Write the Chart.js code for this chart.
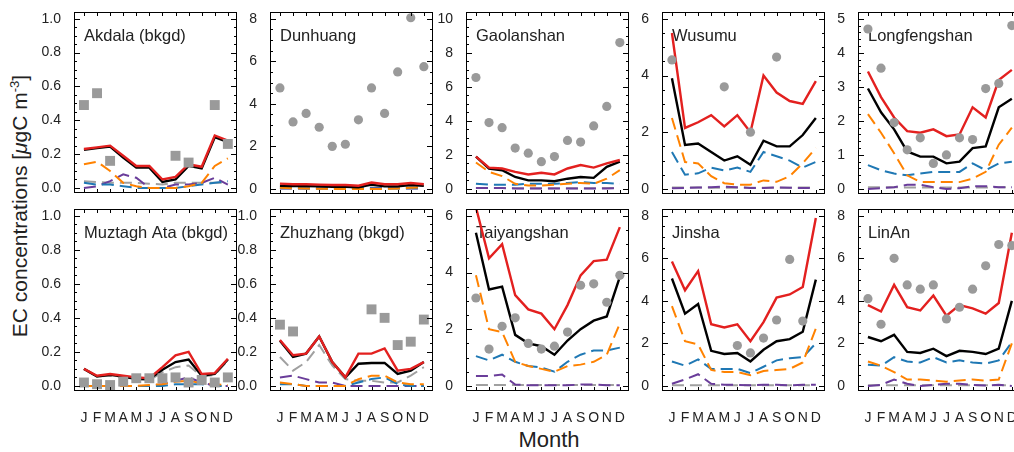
<!DOCTYPE html>
<html lang="en">
<head>
    <meta charset="UTF-8">
    <title>EC concentrations</title>
    <script src="https://cdn.jsdelivr.net/npm/chart.js@4.4.1/dist/chart.umd.min.js"></script>
    <style>
        * {
            margin: 0;
            padding: 0;
        }
        body {
            width: 1014px;
            height: 452px;
            position: relative;
            overflow: hidden;
            background: #fff;
            font-family: "Liberation Sans", Arial, sans-serif;
            color: #222;
        }
        canvas {
            position: absolute;
        }
        #ytitle {
            position: absolute;
            left: 19px;
            top: 206px;
            transform: translate(-50%, -50%) rotate(-90deg);
            white-space: nowrap;
            font-size: 21px;
        }
        #ytitle sup {
            font-size: 13px;
            vertical-align: 8px;
        }
        #xtitle {
            position: absolute;
            left: 549px;
            top: 440px;
            transform: translate(-50%, -50%);
            font-size: 22px;
        }
    </style>
</head>
<body>
<div id="ytitle">EC concentrations [<i>μ</i>gC m<sup>-3</sup>]</div>
<div id="xtitle">Month</div>
<script>
    var months = ['J', 'F', 'M', 'A', 'M', 'J', 'J', 'A', 'S', 'O', 'N', 'D'];
    var stations = ['Akdala (bkgd)', 'Dunhuang', 'Gaolanshan', 'Wusumu', 'Longfengshan',
        'Muztagh Ata (bkgd)', 'Zhuzhang (bkgd)', 'Taiyangshan', 'Jinsha', 'LinAn'];
    var yTicks = [
        [0, 0.2, 0.4, 0.6, 0.8, 1.0],
        [0, 2, 4, 6, 8],
        [0, 2, 4, 6, 8, 10],
        [0, 2, 4, 6],
        [0, 1, 2, 3, 4, 5],
        [0, 0.2, 0.4, 0.6, 0.8, 1.0],
        [0, 0.2, 0.4, 0.6, 0.8, 1.0],
        [0, 2, 4, 6],
        [0, 2, 4, 6, 8],
        [0, 2, 4, 6, 8]
    ];

    // grey markers (observations)
    var observed = [
        [0.49, 0.56, 0.16, null, null, null, null, 0.19, 0.15, null, 0.49, 0.26],
        [4.75, 3.15, 3.55, 2.9, 2.0, 2.1, 3.25, 4.75, 3.55, 5.5, 8.05, 5.75],
        [6.55, 3.9, 3.6, 2.4, 2.1, 1.6, 1.9, 2.85, 2.75, 3.7, 4.85, 8.6],
        [4.55, null, null, null, 3.6, null, 2.0, null, 4.65, null, null, null],
        [4.7, 3.55, 1.95, 1.15, 1.5, 0.75, 1.0, 1.5, 1.45, 2.95, 3.1, 4.8],
        [0.02, 0.01, 0.005, 0.025, 0.045, 0.045, 0.045, 0.05, 0.02, 0.035, 0.02, 0.05],
        [0.36, 0.32, null, null, null, null, null, 0.45, 0.4, 0.24, 0.26, 0.39],
        [3.1, 1.3, 2.1, 2.4, 1.5, 1.3, 1.4, 1.9, 3.55, 3.6, 2.95, 3.9],
        [null, null, null, null, null, 1.9, 1.55, 2.25, 3.1, 5.95, 3.05, null],
        [4.1, 2.9, 6.0, 4.75, 4.55, 4.75, 3.15, 3.7, 4.55, 5.65, 6.65, 6.6]
    ];
    var blackLine = [
        [0.225, 0.235, 0.245, 0.18, 0.12, 0.12, 0.035, 0.05, 0.13, 0.115, 0.30, 0.27],
        [0.15, 0.13, 0.13, 0.12, 0.1, 0.1, 0.08, 0.2, 0.12, 0.12, 0.18, 0.14],
        [1.9, 1.2, 1.1, 0.7, 0.5, 0.5, 0.45, 0.6, 0.7, 0.65, 1.3, 1.6],
        [3.9, 1.55, 1.6, 1.3, 1.0, 1.15, 0.85, 1.7, 1.5, 1.5, 1.9, 2.5],
        [2.95, 2.25, 1.75, 1.1, 0.95, 0.95, 0.75, 0.8, 1.2, 1.25, 2.4, 2.65],
        [0.1, 0.055, 0.065, 0.055, 0.04, 0.04, 0.095, 0.14, 0.155, 0.06, 0.07, 0.155],
        [0.265, 0.17, 0.19, 0.29, 0.14, 0.05, 0.13, 0.135, 0.135, 0.07, 0.09, 0.14],
        [5.4, 3.4, 3.5, 1.8, 1.5, 1.4, 1.1, 1.6, 2.0, 2.3, 2.45, 3.85],
        [5.05, 3.4, 3.85, 1.65, 1.5, 1.55, 1.15, 1.7, 2.1, 2.2, 2.55, 5.0],
        [2.3, 2.1, 2.4, 1.6, 1.55, 1.75, 1.4, 1.65, 1.6, 1.5, 1.75, 4.0]
    ];
    var redLine = [
        [0.23, 0.24, 0.25, 0.19, 0.13, 0.13, 0.05, 0.065, 0.14, 0.125, 0.31, 0.28],
        [0.25, 0.22, 0.22, 0.2, 0.18, 0.18, 0.15, 0.3, 0.22, 0.22, 0.28, 0.22],
        [1.9, 1.25, 1.2, 1.0, 0.85, 0.95, 0.85, 1.2, 1.4, 1.25, 1.5, 1.7],
        [5.5, 2.15, 2.35, 2.6, 2.2, 2.6, 2.0, 4.0, 3.4, 3.1, 3.0, 3.8],
        [3.45, 2.7, 2.1, 1.7, 1.65, 1.75, 1.55, 1.6, 2.4, 2.1, 3.2, 3.5],
        [0.1, 0.06, 0.07, 0.06, 0.05, 0.045, 0.11, 0.18, 0.2, 0.07, 0.075, 0.16],
        [0.27, 0.18, 0.19, 0.29, 0.14, 0.05, 0.19, 0.19, 0.22, 0.09, 0.1, 0.14],
        [6.3, 4.5, 5.0, 3.2, 2.7, 2.55, 2.0, 2.85, 3.9, 4.4, 4.45, 5.6],
        [5.85, 4.5, 5.4, 2.9, 2.75, 2.9, 2.1, 3.0, 4.15, 4.3, 4.65, 7.9],
        [3.8, 3.5, 4.75, 3.7, 3.55, 4.25, 3.3, 3.8, 3.65, 3.4, 3.9, 7.2]
    ];
    var orangeDash = [
        [0.14, 0.155, 0.10, 0.03, 0.01, 0.0, 0.0, 0.0, 0.01, 0.03, 0.13, 0.175],
        [0.05, 0.03, 0.02, 0.01, 0.0, 0.0, 0.0, 0.0, 0.0, 0.02, 0.05, 0.08],
        [1.55, 1.0, 0.75, 0.3, 0.2, 0.2, 0.25, 0.3, 0.35, 0.3, 0.6, 1.1],
        [2.5, 0.95, 0.9, 0.45, 0.2, 0.15, 0.15, 0.3, 0.25, 0.45, 0.9, 1.45],
        [2.2, 1.65, 1.05, 0.4, 0.2, 0.2, 0.2, 0.2, 0.3, 0.5, 1.3, 1.8],
        [0.0, 0.0, 0.0, 0.0, 0.0, 0.005, 0.01, 0.025, 0.03, 0.015, 0.01, 0.005],
        [0.02, 0.01, 0.0, 0.0, 0.0, 0.0, 0.04, 0.06, 0.06, 0.02, 0.01, 0.01],
        [3.9, 2.0, 1.9, 0.85, 0.7, 0.6, 0.5, 0.7, 0.75, 0.85, 1.1, 2.2],
        [3.75, 2.1, 1.95, 0.75, 0.65, 0.65, 0.5, 0.7, 0.75, 0.8, 1.1, 2.7],
        [1.15, 0.95, 0.65, 0.3, 0.3, 0.25, 0.2, 0.25, 0.3, 0.25, 0.3, 2.0]
    ];
    var blueDash = [
        [0.03, 0.02, 0.02, 0.01, 0.0, 0.0, 0.0, 0.0, 0.01, 0.02, 0.03, 0.04],
        [0.03, 0.03, 0.02, 0.02, 0.02, 0.02, 0.02, 0.02, 0.02, 0.02, 0.03, 0.03],
        [0.3, 0.25, 0.25, 0.25, 0.3, 0.3, 0.3, 0.35, 0.4, 0.35, 0.35, 0.3],
        [1.3, 0.5, 0.55, 0.75, 0.65, 0.75, 0.6, 1.3, 1.15, 1.0, 0.75, 0.95],
        [0.7, 0.55, 0.45, 0.4, 0.45, 0.5, 0.5, 0.5, 0.75, 0.55, 0.75, 0.8],
        [0.0, 0.0, 0.0, 0.0, 0.0, 0.0, 0.0, 0.01, 0.01, 0.01, 0.0, 0.0],
        [0.01, 0.01, 0.0, 0.0, 0.0, 0.0, 0.02, 0.04, 0.05, 0.01, 0.0, 0.0],
        [1.05, 0.9, 1.1, 0.85, 0.7, 0.65, 0.5, 0.85, 1.1, 1.25, 1.25, 1.35],
        [1.15, 0.95, 1.25, 0.8, 0.8, 0.8, 0.6, 0.9, 1.2, 1.3, 1.35, 2.0],
        [1.0, 0.95, 1.35, 1.15, 1.1, 1.35, 1.1, 1.2, 1.1, 1.05, 1.2, 2.05]
    ];
    var purpleDash = [
        [0.0, 0.01, 0.04, 0.08, 0.06, 0.0, 0.0, 0.02, 0.02, 0.03, 0.06, 0.02],
        [0.02, 0.02, 0.02, 0.02, 0.02, 0.02, 0.02, 0.03, 0.03, 0.03, 0.02, 0.02],
        [0.05, 0.05, 0.05, 0.03, 0.02, 0.02, 0.02, 0.02, 0.02, 0.02, 0.03, 0.04],
        [0.02, 0.03, 0.05, 0.06, 0.08, 0.06, 0.03, 0.03, 0.05, 0.04, 0.03, 0.03],
        [0.0, 0.02, 0.05, 0.12, 0.12, 0.05, 0.0, 0.02, 0.08, 0.08, 0.05, 0.05],
        [0.0, 0.0, 0.0, 0.0, 0.0, 0.0, 0.01, 0.03, 0.05, 0.02, 0.0, 0.0],
        [0.05, 0.06, 0.04, 0.02, 0.02, 0.0, 0.0, 0.0, 0.0, 0.0, 0.0, 0.0],
        [0.35, 0.35, 0.4, 0.05, 0.02, 0.02, 0.02, 0.02, 0.05, 0.05, 0.02, 0.02],
        [0.1, 0.3, 0.55, 0.1, 0.05, 0.05, 0.03, 0.05, 0.05, 0.03, 0.05, 0.05],
        [0.0, 0.05, 0.3, 0.1, 0.0, 0.05, 0.1, 0.1, 0.05, 0.02, 0.05, 0.0]
    ];
    var grayDash = [
        [0.04, 0.035, 0.03, 0.03, 0.03, 0.025, 0.02, 0.03, 0.03, 0.03, 0.03, 0.03],
        [0.08, 0.06, 0.06, 0.06, 0.06, 0.06, 0.05, 0.07, 0.06, 0.06, 0.07, 0.06],
        [0.05, 0.05, 0.05, 0.04, 0.04, 0.04, 0.04, 0.04, 0.04, 0.04, 0.05, 0.05],
        [0.05, 0.05, 0.05, 0.04, 0.04, 0.04, 0.04, 0.04, 0.04, 0.04, 0.05, 0.05],
        [0.05, 0.05, 0.05, 0.04, 0.04, 0.04, 0.04, 0.04, 0.04, 0.04, 0.05, 0.05],
        [0.1, 0.055, 0.06, 0.05, 0.04, 0.035, 0.08, 0.11, 0.12, 0.055, 0.065, 0.15],
        [0.17, 0.09, 0.14, 0.24, 0.12, 0.04, 0.03, 0.03, 0.02, 0.02, 0.06, 0.11],
        [0.03, 0.03, 0.03, 0.03, 0.03, 0.03, 0.03, 0.03, 0.03, 0.03, 0.03, 0.03],
        [0.03, 0.03, 0.03, 0.03, 0.03, 0.03, 0.03, 0.03, 0.03, 0.03, 0.03, 0.03],
        [0.03, 0.03, 0.03, 0.03, 0.03, 0.03, 0.03, 0.03, 0.03, 0.03, 0.03, 0.03]
    ];

    var FONT = '"Liberation Sans", Arial, sans-serif';
    var panelW = 163, panelH = 182, axisW = 45, padTop = 10, padRight = 8;

    // box, inward ticks and the station name inside each panel
    var frame = {
        id: 'frame',
        beforeDatasetsDraw: function (chart) {
            var ctx = chart.ctx, a = chart.chartArea;
            ctx.save();
            ctx.font = '16.5px ' + FONT;
            ctx.fillStyle = '#222';
            ctx.textBaseline = 'middle';
            ctx.fillText(chart.options.plugins.frame.title, a.left + 10, a.top + 24);
            ctx.restore();
        },
        afterDraw: function (chart) {
            var ctx = chart.ctx, a = chart.chartArea;
            var x = chart.scales.x, y = chart.scales.y;
            var o = chart.options.plugins.frame;
            ctx.save();
            ctx.strokeStyle = '#000';
            ctx.lineWidth = 1;
            ctx.strokeRect(a.left + 0.5, a.top + 0.5, a.right - a.left - 1, a.bottom - a.top - 1);
            ctx.beginPath();
            for (var m = 0; m < 12; m++) {
                var px = Math.round(x.getPixelForValue(m)) + 0.5;
                ctx.moveTo(px, a.top); ctx.lineTo(px, a.top + 4);
                ctx.moveTo(px, a.bottom); ctx.lineTo(px, a.bottom - 4);
            }
            var minor = o.step / o.minor;
            for (var k = 0; k * minor <= o.top + 1e-9; k++) {
                var py = Math.round(y.getPixelForValue(k * minor)) + 0.5;
                var len = k % o.minor === 0 ? 6 : 3;
                ctx.moveTo(a.left, py); ctx.lineTo(a.left + len, py);
                ctx.moveTo(a.right, py); ctx.lineTo(a.right - len, py);
            }
            ctx.stroke();
            ctx.restore();
        }
    };

    function pts(arr) {
        return arr.map(function (v, k) { return {x: k, y: v}; });
    }

    function dashed(arr, color) {
        return {type: 'line', data: pts(arr), borderColor: color, borderWidth: 2,
            borderDash: [12, 6], pointRadius: 0, fill: false, order: 5};
    }

    stations.forEach(function (name, i) {
        var col = i % 5, row = Math.floor(i / 5);
        var boxLeft = 74 + 196 * col, boxTop = row ? 209 : 12;
        var bottomH = row ? 32 : 6;
        var ticks = yTicks[i];
        var top = ticks[ticks.length - 1], step = ticks[1];
        var bkgd = name.indexOf('(bkgd)') >= 0;

        var canvas = document.createElement('canvas');
        canvas.width = axisW + panelW + padRight;
        canvas.height = padTop + panelH + bottomH;
        canvas.style.left = (boxLeft - axisW) + 'px';
        canvas.style.top = (boxTop - padTop) + 'px';
        document.body.appendChild(canvas);

        new Chart(canvas.getContext('2d'), {
            type: 'line',
            data: {
                datasets: [
                    {type: 'line', data: pts(observed[i]), showLine: false,
                        pointStyle: bkgd ? 'rect' : 'circle', pointRadius: bkgd ? 7 : 4.6,
                        pointBackgroundColor: '#9a9a9a', pointBorderWidth: 0, order: 0},
                    {type: 'line', data: pts(redLine[i]), borderColor: '#e3201f', borderWidth: 2.4,
                        pointRadius: 0, fill: false, order: 1},
                    {type: 'line', data: pts(blackLine[i]), borderColor: '#000', borderWidth: 2.4,
                        pointRadius: 0, fill: false, order: 2},
                    dashed(orangeDash[i], '#ff8200'),
                    dashed(blueDash[i], '#1f78b4'),
                    dashed(purpleDash[i], '#6a3d9a'),
                    dashed(grayDash[i], '#a0a0a0')
                ]
            },
            options: {
                responsive: false,
                animation: false,
                devicePixelRatio: 1,
                layout: {padding: {top: padTop, right: padRight, left: 0, bottom: 0}},
                plugins: {
                    legend: {display: false},
                    tooltip: {enabled: false},
                    frame: {title: name, top: top, step: step, minor: step === 1 ? 5 : 4}
                },
                scales: {
                    x: {
                        type: 'linear', min: -0.76, max: 11.7,
                        grid: {display: false}, border: {display: false},
                        afterBuildTicks: function (s) {
                            s.ticks = months.map(function (m, k) { return {value: k}; });
                        },
                        ticks: {
                            display: row === 1, autoSkip: false, maxRotation: 0, padding: 11,
                            color: '#222', font: {family: FONT, size: 14},
                            callback: function (v) { return months[v]; }
                        },
                        afterFit: function (s) {
                            s.height = bottomH;
                            s.paddingLeft = 0; s.paddingRight = 0;
                        }
                    },
                    y: {
                        min: -0.03 * top, max: 1.04 * top,
                        grid: {display: false}, border: {display: false},
                        afterBuildTicks: function (s) {
                            s.ticks = ticks.map(function (v) { return {value: v}; });
                        },
                        ticks: {
                            padding: 5, color: '#222', font: {family: FONT, size: 14},
                            callback: function (v) { return step < 1 ? v.toFixed(1) : String(v); }
                        },
                        afterFit: function (s) {
                            s.width = axisW;
                            s.paddingTop = 0; s.paddingBottom = 0;
                        }
                    }
                }
            },
            plugins: [frame]
        });
    });
</script>
</body>
</html>
